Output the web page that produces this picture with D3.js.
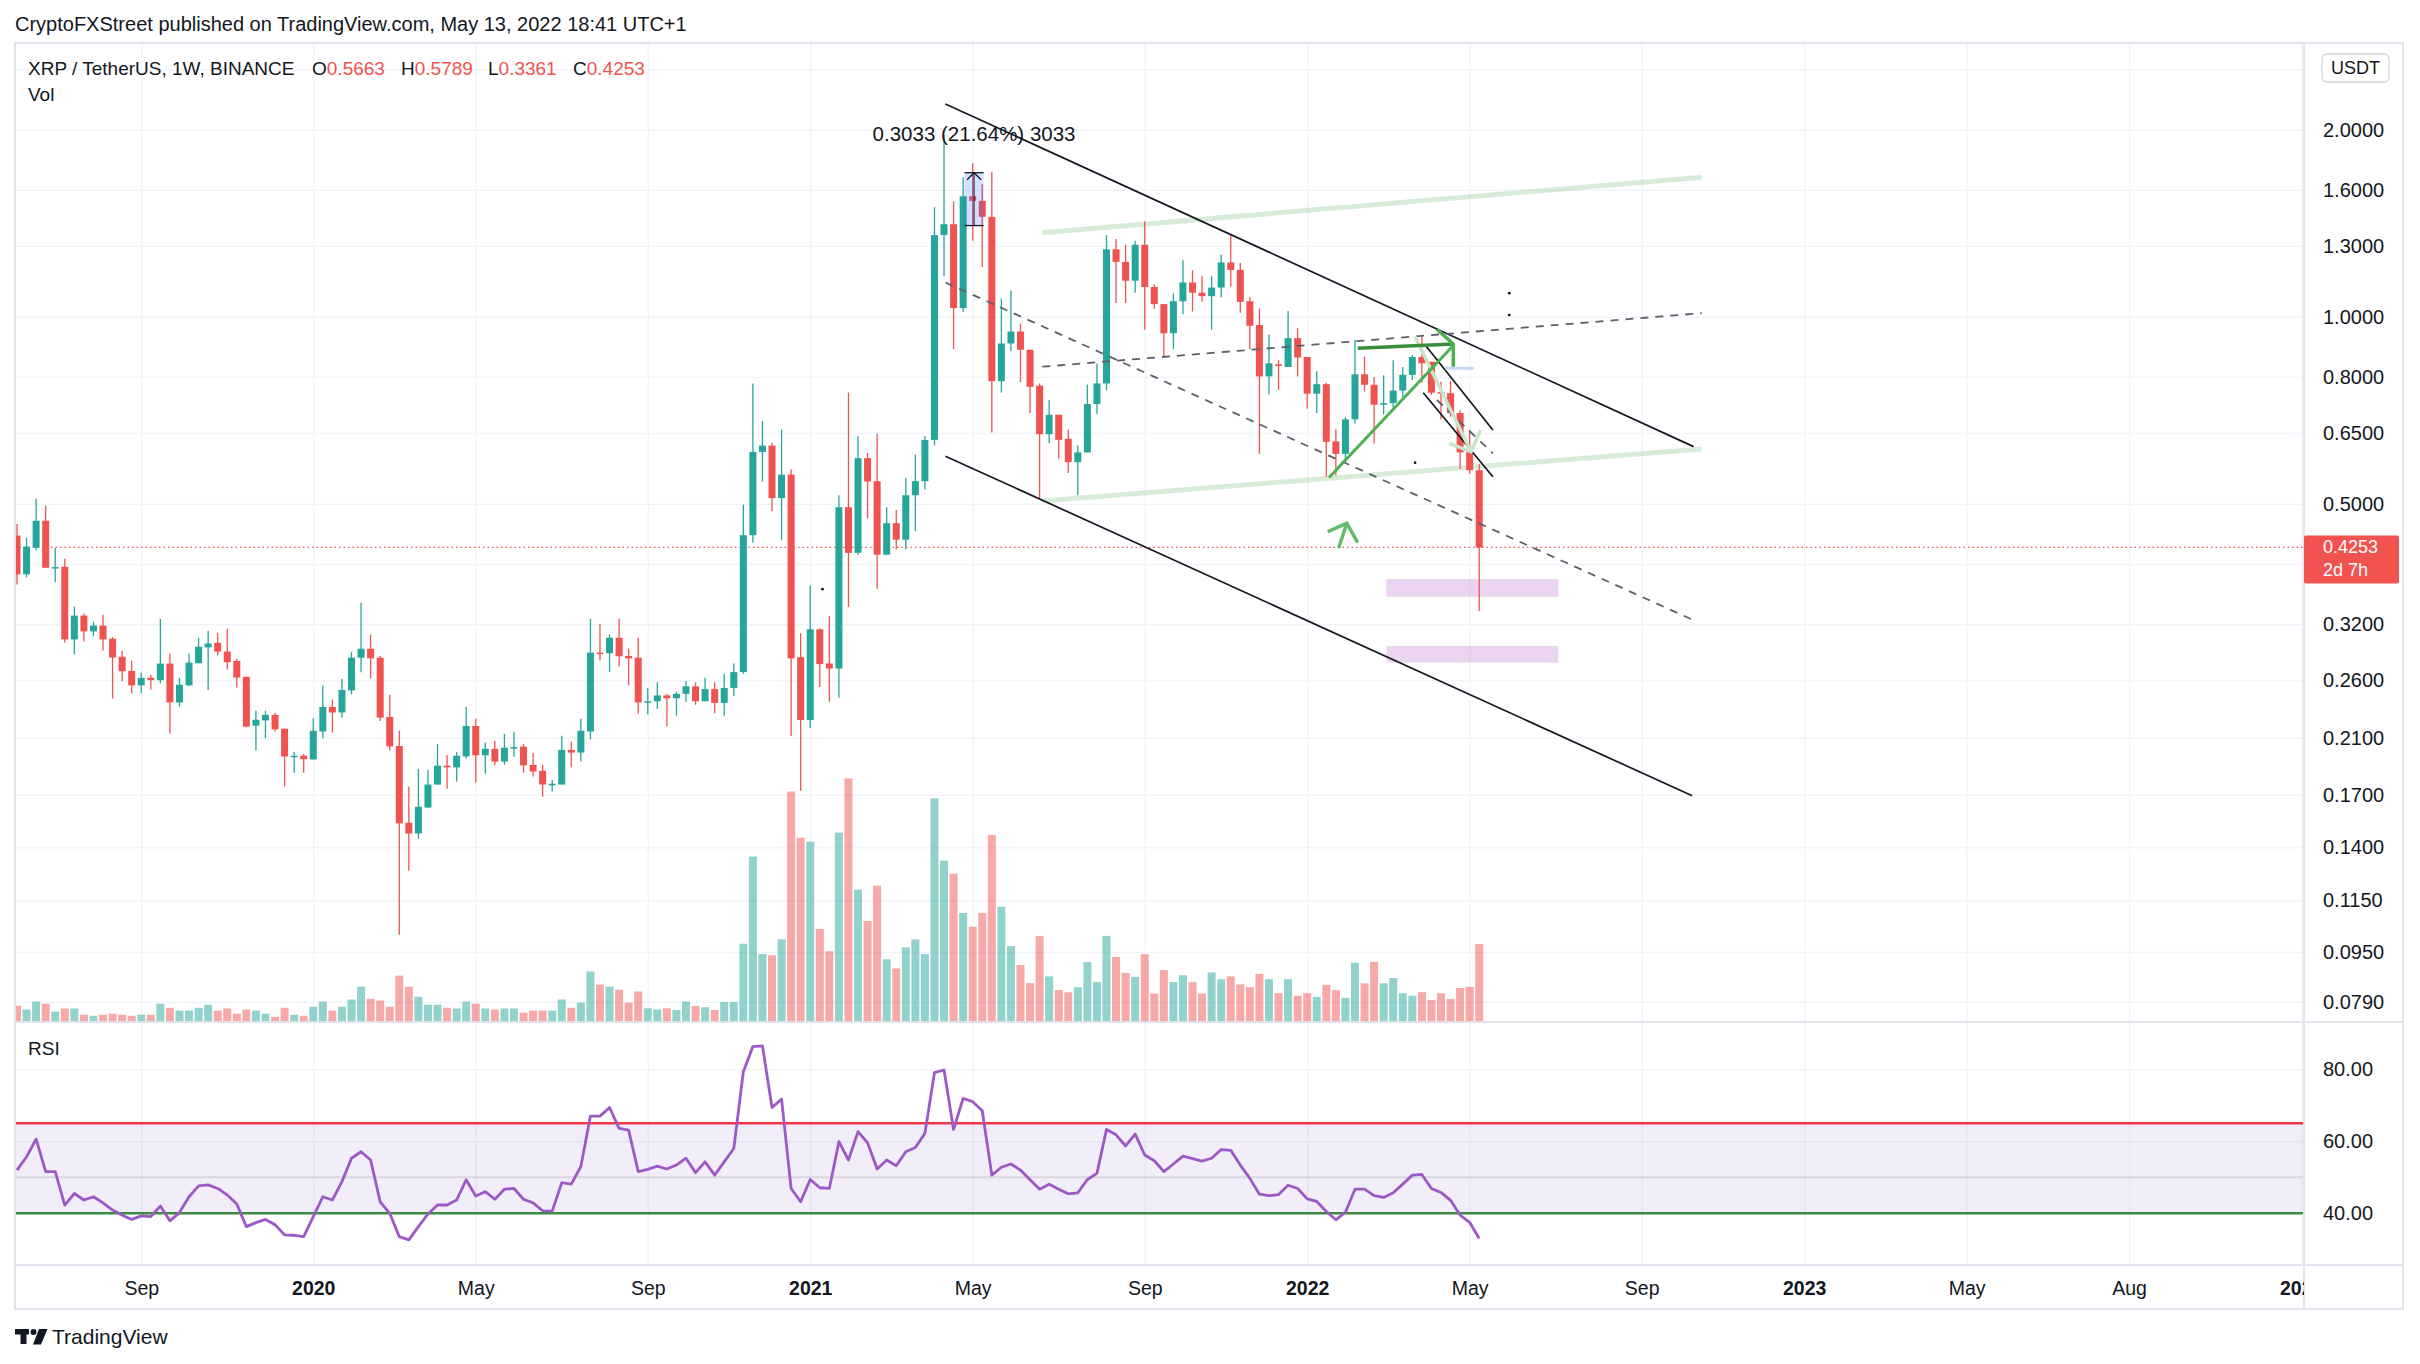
<!DOCTYPE html>
<html>
<head>
<meta charset="utf-8">
<title>XRP / TetherUS 1W</title>
<script src="https://cdn.jsdelivr.net/npm/d3@7"></script>
<style>
html, body { margin: 0; background: #fff; overflow: hidden; }
svg text { font-family: "Liberation Sans", Arial, sans-serif; fill: #131722; }
.grid line { stroke: #f0f3fa; stroke-width: 1.3; }
.grid path { display: none; }
</style>
</head>
<body>
<svg id="chart" width="2420" height="1364"></svg>
<script>
// weekly bars, first one is the week of 2019-06-03
const firstBar = "2019-06-03";

const opens = [.4444,.3850,.4249,.4696,.3945,.3960,.3025,.3304,.3116,.3184,.3033,.2837,.2692,.2552,.2624,.2601,.2766,.2395,.2552,.2769,
.2937,.2987,.2892,.2794,.2634,.2198,.2241,.2287,.2173,.1961,.1966,.1939,.2151,.2355,.2308,.2505,.2827,.2922,.2827,.2270,
.2038,.1534,.1474,.1622,.1767,.1895,.1883,.1961,.2195,.1969,.2017,.1924,.2020,.2033,.1900,.1859,.1767,.1767,.2009,.1989,
.2151,.2881,.2874,.3044,.2845,.2827,.2395,.2406,.2458,.2432,.2473,.2542,.2406,.2516,.2391,.2527,.2680,.4451,.6060,.6203,
.5107,.5569,.2832,.2244,.3141,.2767,.2716,.4937,.4169,.5921,.5437,.4141,.4653,.4377,.5161,.5437,.6336,1.3532,1.4086,1.0324,
1.5623,1.5360,1.4478,.7876,.9056,.9467,.8847,.7745,.6471,.6953,.6362,.5834,.6048,.7238,.7810,1.2835,1.2252,1.1427,1.3054,1.1164,
1.0478,.9407,1.0590,1.1354,1.0930,1.0792,1.1140,1.2226,1.1894,1.0590,.9694,.8016,.8381,.8300,.9236,.8613,.7519,.7787,.6302,.6016,
.6837,.8078,.7771,.7218,.7261,.7607,.8063,.8612,.8464,.7562,.7533,.6998,.6062,.5663];
const highs = [.4641,.4410,.5097,.4968,.4243,.4078,.3417,.3326,.3230,.3313,.3052,.2899,.2794,.2675,.2655,.3267,.2870,.2624,.2870,.3044,
.3123,.3100,.3148,.2815,.2634,.2323,.2323,.2305,.2173,.1994,.1979,.2258,.2548,.2421,.2615,.2889,.3465,.3080,.2845,.2464,
.2156,.1754,.1873,.1866,.2054,.1971,.1994,.2355,.2255,.2062,.2078,.2132,.2148,.2054,.1986,.1900,.1797,.2116,.2070,.2255,
.3267,.3204,.3080,.3267,.2922,.3044,.2527,.2580,.2474,.2494,.2593,.2580,.2624,.2580,.2663,.2767,.4984,.7810,.6793,.6270,
.6582,.5676,.3094,.3695,.3150,.3297,.5161,.7550,.6430,.6035,.6485,.4937,.4885,.5499,.5997,.6430,1.5007,1.9666,1.5330,1.6750,
1.7660,1.6330,1.7110,1.0700,1.1020,.9750,.8847,.7810,.7346,.6953,.6582,.6203,.7777,.8410,1.3532,1.3333,1.3054,1.3248,1.4236,1.1282,
1.0478,1.0907,1.2330,1.1869,1.1620,1.1620,1.2593,1.3532,1.2200,1.0747,1.0315,.9361,.8513,1.0216,.9582,.8613,.8173,.7832,.6590,.6890,
.9182,.8629,.8000,.8047,.8513,.8300,.8680,.9290,.8464,.7862,.7877,.7068,.6577,.5789];
const lows = [.3709,.3806,.4210,.3945,.3738,.2990,.2862,.3002,.3060,.2903,.2430,.2591,.2477,.2477,.2513,.2571,.2134,.2358,.2542,.2769,
.2507,.2851,.2706,.2532,.2184,.2004,.2097,.2151,.1754,.1846,.1846,.1939,.2097,.2142,.2264,.2467,.2679,.2618,.2236,.2004,
.1013,.1284,.1445,.1622,.1767,.1740,.1786,.1946,.1779,.1839,.1897,.1902,.1959,.1846,.1821,.1689,.1722,.1767,.1883,.1924,
.2089,.2799,.2679,.2738,.2552,.2296,.2292,.2337,.2193,.2280,.2401,.2374,.2406,.2302,.2280,.2450,.2663,.4331,.5430,.4865,
.4377,.2115,.1727,.2179,.2537,.2401,.2437,.3411,.4139,.4732,.3649,.4139,.4222,.4222,.4517,.5272,.6203,1.1620,.8867,1.0172,
1.3248,1.2020,.6512,.7550,.8810,.7843,.6998,.5096,.6255,.5909,.5605,.5161,.6048,.6982,.7615,1.0522,1.0522,1.0930,.9527,1.0302,
.8608,.8867,1.0087,1.0193,1.0567,.9527,1.0747,1.1187,1.0151,.8867,.6016,.7504,.7621,.8300,.8016,.7108,.6998,.5524,.5556,.5843,
.6732,.7578,.6253,.6958,.7080,.7418,.7910,.7832,.7490,.6837,.6900,.5686,.5588,.3361];
const closes = [.3850,.4266,.4696,.3945,.3955,.3025,.3304,.3116,.3184,.3025,.2829,.2689,.2552,.2624,.2601,.2766,.2395,.2558,.2776,.2944,
.2979,.2892,.2780,.2627,.2190,.2246,.2287,.2167,.1961,.1966,.1941,.2156,.2355,.2308,.2509,.2827,.2922,.2820,.2264,.2035,
.1530,.1474,.1627,.1767,.1895,.1883,.1966,.2195,.1969,.2017,.1924,.2025,.2030,.1897,.1854,.1767,.1772,.2009,.1989,.2156,
.2881,.2878,.3044,.2842,.2820,.2395,.2406,.2458,.2432,.2473,.2542,.2406,.2516,.2391,.2527,.2680,.4451,.6060,.6203,.5107,
.5569,.2820,.2244,.3141,.2761,.2716,.4937,.4169,.5921,.5430,.4141,.4653,.4377,.5161,.5437,.6336,1.3532,1.4086,1.0324,1.5623,
1.5360,1.4478,.7876,.9056,.9467,.8847,.7712,.6471,.6953,.6336,.5834,.6048,.7238,.7810,1.2835,1.2252,1.1427,1.3054,1.1164,1.0478,
.9407,1.0590,1.1354,1.0930,1.0792,1.1140,1.2226,1.1894,1.0567,.9669,.8016,.8415,.8333,.9236,.8596,.7519,.7787,.6290,.6016,.6837,
.8078,.7771,.7218,.7261,.7607,.8063,.8612,.8415,.7548,.7533,.6998,.6050,.5663,.4253];
// volume, millions of XRP
const volumes = [163,125,204,183,104,135,135,73,62,73,83,73,62,73,73,183,142,114,114,142,
173,114,135,83,125,114,83,52,142,73,62,152,204,114,152,225,353,232,215,152,
464,353,253,173,173,142,135,204,183,135,125,135,135,93,114,114,114,225,142,194,
505,374,353,322,194,305,137,125,137,120,205,160,148,120,200,200,782,1654,679,667,
827,2305,1843,1803,930,707,1894,2436,1323,1010,1363,627,536,747,827,679,2236,1614,1483,1090,
953,1090,1871,1152,759,570,388,861,456,319,297,348,599,399,861,650,491,451,679,285,
519,399,468,399,285,496,428,456,376,348,482,429,288,429,262,288,251,372,319,241,
592,387,602,387,440,288,262,298,220,288,230,340,351,780];
const rsi = [52.0,55.7,60.6,51.6,51.6,42.3,45.5,43.7,44.6,42.9,40.9,39.5,38.3,39.3,39.1,42.0,37.9,40.2,44.6,47.6,
47.9,46.9,45.1,42.6,36.3,37.4,38.3,36.8,34.0,33.9,33.5,39.1,44.6,43.7,48.8,55.3,57.1,54.8,43.2,40.0,
33.5,32.6,36.3,39.8,42.3,42.3,43.7,49.3,44.8,46.0,43.9,46.7,46.9,43.9,42.9,40.7,40.6,48.5,48.1,53.0,
67.0,67.0,69.4,63.6,63.1,51.6,52.2,53.1,52.3,53.4,55.3,51.3,54.3,50.6,54.3,58.0,79.3,86.3,86.5,69.4,
71.7,46.9,43.2,49.4,47.1,46.9,59.9,54.8,62.7,59.6,52.3,54.8,53.2,57.1,58.3,62.2,79.1,79.8,63.3,71.9,
71.0,68.5,50.6,52.8,53.7,52.0,49.3,46.7,48.1,46.7,45.4,45.7,49.4,51.1,63.3,61.8,58.7,62.0,56.2,54.6,
51.6,53.7,55.9,55.2,54.5,55.3,57.7,57.5,53.4,49.7,45.3,44.9,45.2,47.8,46.9,44.0,43.3,40.5,38.2,40.3,
46.7,46.7,44.9,44.4,45.7,48.1,50.6,50.8,46.9,45.8,43.6,39.5,37.5,33.0];

const priceGrid = [2.5, 2.0, 1.6, 1.3, 1.0, 0.8, 0.65, 0.5, 0.4, 0.32, 0.26, 0.21, 0.17, 0.14, 0.115, 0.095, 0.079];
// 2.5 and 0.4 sit under the currency button and the last-price tag
const priceLabels = [2.0, 1.6, 1.3, 1.0, 0.8, 0.65, 0.5, 0.32, 0.26, 0.21, 0.17, 0.14, 0.115, 0.095, 0.079];
const rsiTicks = [80, 60, 40];
const rsiBands = [40, 50, 65];
const timeTicks = [["2019-09-02","Sep"],["2020-01-06","2020"],["2020-05-04","May"],["2020-09-07","Sep"],["2021-01-04","2021"],
  ["2021-05-03","May"],["2021-09-06","Sep"],["2022-01-03","2022"],["2022-05-02","May"],["2022-09-05","Sep"],
  ["2023-01-02","2023"],["2023-05-01","May"],["2023-08-28","Aug"],["2024-01-01","2024"]];
const lastPrice = 0.4253;

// drawings, [date, price]
const channelLines = [[["2021-04-13",2.20],["2022-10-13",0.618]], [["2021-04-13",0.5965],["2022-10-12",0.1695]],
  [["2022-03-31",0.8971],["2022-05-19",0.6572]], [["2022-03-29",0.7546],["2022-05-19",0.5528]]];
const dashedLines = [[["2021-04-13",1.135],["2022-10-11",0.3263]], [["2021-06-23",0.8309],["2022-10-19",1.0133]],
  [["2022-04-08",0.7345],["2022-05-19",0.6029]]];
const bandLines = [[["2021-06-23",1.365],["2022-10-19",1.677]], [["2021-06-23",0.5053],["2022-10-19",0.6127]]];
const riseLine = [["2022-01-19",0.5511],["2022-04-20",0.8988]];
const pushArrow = [["2022-02-09",0.8898],["2022-04-20",0.9038]];
const pushHead = [["2022-04-08",0.9544],["2022-04-20",0.9038],["2022-04-20",0.8309]];
const chevron = [["2022-01-18",0.4509],["2022-02-01",0.4651],["2022-02-09",0.4329]];
const chevronStem = [["2022-02-01",0.4651],["2022-01-26",0.4240]];
const fadedArrow = [["2022-03-23",0.9286],["2022-05-03",0.6064]];
const fadedHead = [["2022-04-17",0.6256],["2022-05-03",0.6064],["2022-05-10",0.6572]];
const blueMark = [["2022-04-14",0.826],["2022-05-05",0.826]];
const zones = [["2022-03-02","2022-07-06",0.3543,0.3784], ["2022-03-02","2022-07-06",0.2775,0.2952]];
const measure = {from: "2021-04-27", to: "2021-05-11", low: 1.4017, high: 1.7050, label: "0.3033 (21.64%) 3033"};
const dots = [["2022-05-31",1.006],["2022-05-31",1.091],["2022-03-23",0.5822],["2021-01-13",0.3644]];

const UP = "#26a69a", DOWN = "#ef5350";
const parse = d3.utcParse("%Y-%m-%d");
const start = parse(firstBar);
const bars = closes.map((c, i) => ({
  date: d3.utcDay.offset(start, 7 * i), o: opens[i], h: highs[i], l: lows[i], c: c, v: volumes[i], rsi: rsi[i]
}));

const svg = d3.select("#chart");
const L = 15, R = 2304, T = 43, PB = 1022, RB = 1265, AXR = 2403, BOT = 1309;

const x = d3.scaleUtc().domain([parse("2019-06-03"), parse("2022-01-03")]).range([17, 1307.2]);
const y = d3.scaleLog().domain([0.0733, 2.757]).range([PB, T]);
const yVol = d3.scaleLinear().domain([0, 2500]).range([PB, PB - 250]);
const yRsi = d3.scaleLinear().domain([40, 80]).range([1213.3, 1069.3]);
const pt = d => [x(parse(d[0])), y(d[1])];

// header
svg.append("text").attr("x", 15).attr("y", 31).attr("font-size", 20)
  .text("CryptoFXStreet published on TradingView.com, May 13, 2022 18:41 UTC+1");

const defs = svg.append("defs");
defs.append("clipPath").attr("id", "pclip").append("rect").attr("x", L).attr("y", T).attr("width", R - L).attr("height", PB - T);
defs.append("clipPath").attr("id", "rclip").append("rect").attr("x", L).attr("y", PB).attr("width", R - L).attr("height", RB - PB);
defs.append("clipPath").attr("id", "tclip").append("rect").attr("x", L).attr("y", RB).attr("width", R - L).attr("height", BOT - RB);

// grids
const tickDates = timeTicks.map(t => parse(t[0]));
svg.append("g").attr("class", "grid").attr("transform", `translate(0,${T})`)
  .call(d3.axisBottom(x).tickValues(tickDates).tickSize(RB - T).tickFormat(""));
svg.append("g").attr("class", "grid").attr("transform", `translate(${R},0)`)
  .call(d3.axisLeft(y).tickValues(priceGrid).tickSize(R - L).tickFormat(""));
svg.append("g").attr("class", "grid").attr("transform", `translate(${R},0)`)
  .call(d3.axisLeft(yRsi).tickValues([80, 60]).tickSize(R - L).tickFormat(""));

// price pane
const pg = svg.append("g").attr("clip-path", "url(#pclip)");

pg.append("g").selectAll("rect").data(bars).join("rect")
  .attr("x", d => x(d.date) - 4).attr("width", 8)
  .attr("y", d => yVol(d.v)).attr("height", d => PB - yVol(d.v))
  .attr("fill", d => d.c >= d.o ? "rgba(38,166,154,0.5)" : "rgba(239,83,80,0.5)");

pg.append("line").attr("x1", L).attr("x2", R).attr("y1", y(lastPrice)).attr("y2", y(lastPrice))
  .attr("stroke", DOWN).attr("stroke-width", 1.3).attr("stroke-dasharray", "1.5,3");

// drawings behind candles
zones.forEach(z => {
  pg.append("rect").attr("x", x(parse(z[0]))).attr("width", x(parse(z[1])) - x(parse(z[0])))
    .attr("y", y(z[3])).attr("height", y(z[2]) - y(z[3])).attr("fill", "rgba(156,39,176,0.2)");
});
const line = d3.line();
bandLines.forEach(s => pg.append("path").attr("d", line(s.map(pt))).attr("stroke", "rgba(76,175,80,0.22)")
  .attr("stroke-width", 5).attr("fill", "none"));

const cg = pg.append("g");
const candle = cg.selectAll("g").data(bars).join("g");
candle.append("line")
  .attr("x1", d => x(d.date)).attr("x2", d => x(d.date))
  .attr("y1", d => y(d.h)).attr("y2", d => y(d.l))
  .attr("stroke", d => d.c >= d.o ? UP : DOWN).attr("stroke-width", 1.3);
candle.append("rect")
  .attr("x", d => x(d.date) - 3.5).attr("width", 7)
  .attr("y", d => y(Math.max(d.o, d.c)))
  .attr("height", d => Math.max(1.5, Math.abs(y(d.o) - y(d.c))))
  .attr("fill", d => d.c >= d.o ? UP : DOWN);

// measure tool
const mx0 = x(parse(measure.from)), mx1 = x(parse(measure.to)), mc = (mx0 + mx1) / 2;
pg.append("rect").attr("x", mx0).attr("width", mx1 - mx0).attr("y", y(measure.high))
  .attr("height", y(measure.low) - y(measure.high)).attr("fill", "rgba(41,98,255,0.2)");
[measure.high, measure.low].forEach(p => pg.append("line").attr("x1", mx0).attr("x2", mx1)
  .attr("y1", y(p)).attr("y2", y(p)).attr("stroke", "#131722").attr("stroke-width", 1.3));
pg.append("line").attr("x1", mc).attr("x2", mc).attr("y1", y(measure.high)).attr("y2", y(measure.low))
  .attr("stroke", "#131722").attr("stroke-width", 1);
pg.append("path").attr("d", `M${mc - 7},${y(measure.high) + 7}L${mc},${y(measure.high)}L${mc + 7},${y(measure.high) + 7}`)
  .attr("stroke", "#131722").attr("fill", "none").attr("stroke-width", 1.2);
svg.append("text").attr("x", mc).attr("y", y(measure.high) - 32).attr("text-anchor", "middle")
  .attr("font-size", 20.5).text(measure.label);

channelLines.forEach(s => pg.append("path").attr("d", line(s.map(pt))).attr("stroke", "#131722")
  .attr("stroke-width", 1.7).attr("fill", "none"));
dashedLines.forEach(s => pg.append("path").attr("d", line(s.map(pt))).attr("stroke", "#5d606b")
  .attr("stroke-width", 1.8).attr("stroke-dasharray", "8,7").attr("fill", "none"));

pg.append("path").attr("d", line(fadedArrow.map(pt))).attr("stroke", "#c8e6c9").attr("stroke-width", 3.5).attr("fill", "none");
pg.append("path").attr("d", line(fadedHead.map(pt))).attr("stroke", "#c8e6c9").attr("stroke-width", 3.5).attr("fill", "none");
pg.append("path").attr("d", line(blueMark.map(pt))).attr("stroke", "#c9d6f7").attr("stroke-width", 3).attr("fill", "none");
pg.append("path").attr("d", line(riseLine.map(pt))).attr("stroke", "#4caf50").attr("stroke-width", 3).attr("fill", "none");
pg.append("path").attr("d", line(pushArrow.map(pt))).attr("stroke", "#388e3c").attr("stroke-width", 3.5).attr("fill", "none");
pg.append("path").attr("d", line(pushHead.map(pt))).attr("stroke", "#4caf50").attr("stroke-width", 3.5)
  .attr("fill", "none").attr("stroke-linejoin", "round");
pg.append("path").attr("d", line(chevron.map(pt))).attr("stroke", "#66bb6a").attr("stroke-width", 3.5).attr("fill", "none");
pg.append("path").attr("d", line(chevronStem.map(pt))).attr("stroke", "#66bb6a").attr("stroke-width", 3.5).attr("fill", "none");
dots.forEach(d => pg.append("circle").attr("cx", pt(d)[0]).attr("cy", pt(d)[1]).attr("r", 1.4).attr("fill", "#131722"));

// RSI pane
const rg = svg.append("g").attr("clip-path", "url(#rclip)");
rg.append("rect").attr("x", L).attr("width", R - L).attr("y", yRsi(rsiBands[2]))
  .attr("height", yRsi(rsiBands[0]) - yRsi(rsiBands[2])).attr("fill", "rgba(126,87,194,0.1)");
rg.append("line").attr("x1", L).attr("x2", R).attr("y1", yRsi(rsiBands[1])).attr("y2", yRsi(rsiBands[1]))
  .attr("stroke", "rgba(120,123,134,0.2)").attr("stroke-width", 2);
rg.append("line").attr("x1", L).attr("x2", R).attr("y1", yRsi(rsiBands[2])).attr("y2", yRsi(rsiBands[2]))
  .attr("stroke", "#f23645").attr("stroke-width", 2.6);
rg.append("line").attr("x1", L).attr("x2", R).attr("y1", yRsi(rsiBands[0])).attr("y2", yRsi(rsiBands[0]))
  .attr("stroke", "#388e3c").attr("stroke-width", 2.6);
rg.append("path").datum(bars)
  .attr("d", d3.line().x(d => x(d.date)).y(d => yRsi(d.rsi)))
  .attr("stroke", "#9c59c6").attr("stroke-width", 2.8).attr("fill", "none").attr("stroke-linejoin", "round");

// legends
const lg = svg.append("text").attr("x", 28).attr("y", 75).attr("font-size", 19);
lg.append("tspan").text("XRP / TetherUS, 1W, BINANCE");
[["O", opens], ["H", highs], ["L", lows], ["C", closes]].forEach((k, j) => {
  lg.append("tspan").attr("x", [312, 401, 488, 573][j]).text(k[0]);
  lg.append("tspan").attr("fill", DOWN).style("fill", DOWN).text(k[1][k[1].length - 1].toFixed(4));
});
svg.append("text").attr("x", 28).attr("y", 101).attr("font-size", 19).text("Vol");
svg.append("text").attr("x", 28).attr("y", 1055).attr("font-size", 19).text("RSI");

// frame and separators
svg.append("rect").attr("x", L).attr("y", T).attr("width", AXR - L).attr("height", BOT - T)
  .attr("fill", "none").attr("stroke", "#e0e3eb").attr("stroke-width", 2);
svg.append("line").attr("x1", R).attr("x2", R).attr("y1", T).attr("y2", BOT).attr("stroke", "#e0e3eb").attr("stroke-width", 2);
[PB, RB].forEach(v => svg.append("line").attr("x1", L).attr("x2", AXR).attr("y1", v).attr("y2", v)
  .attr("stroke", "#e0e3eb").attr("stroke-width", 2));

// price axis
const pa = svg.append("g").attr("transform", `translate(${R},0)`)
  .call(d3.axisRight(y).tickValues(priceLabels).tickFormat(d3.format(".4f")).tickSize(0).tickPadding(19));
pa.select(".domain").remove();
pa.selectAll("text").attr("font-size", 20).attr("font-family", "Liberation Sans, Arial, sans-serif").attr("fill", "#131722");

const ra = svg.append("g").attr("transform", `translate(${R},0)`)
  .call(d3.axisRight(yRsi).tickValues(rsiTicks).tickFormat(d3.format(".2f")).tickSize(0).tickPadding(19));
ra.select(".domain").remove();
ra.selectAll("text").attr("font-size", 20).attr("font-family", "Liberation Sans, Arial, sans-serif").attr("fill", "#131722");

// last price tag
const ly = y(lastPrice);
svg.append("rect").attr("x", R).attr("y", ly - 12).attr("width", 95).attr("height", 48).attr("rx", 2).attr("fill", "#f05350");
svg.append("text").attr("x", 2323).attr("y", ly + 6).attr("font-size", 18).style("fill", "#fff").text(lastPrice.toFixed(4));
svg.append("text").attr("x", 2323).attr("y", ly + 29).attr("font-size", 18).style("fill", "#fff").text("2d 7h");

// currency button
svg.append("rect").attr("x", 2322).attr("y", 54).attr("width", 67).attr("height", 28).attr("rx", 5)
  .attr("fill", "#fff").attr("stroke", "#d1d4dc").attr("stroke-width", 1.3);
svg.append("text").attr("x", 2355.5).attr("y", 74).attr("text-anchor", "middle").attr("font-size", 18).text("USDT");

// time axis
const labelOf = new Map(timeTicks.map(t => [+parse(t[0]), t[1]]));
const ta = svg.append("g").attr("clip-path", "url(#tclip)").append("g").attr("transform", `translate(0,${RB})`)
  .call(d3.axisBottom(x).tickValues(tickDates).tickSize(0).tickPadding(16).tickFormat(d => labelOf.get(+d)));
ta.select(".domain").remove();
ta.selectAll("text").attr("font-size", 19.5).attr("font-family", "Liberation Sans, Arial, sans-serif").attr("fill", "#131722")
  .attr("font-weight", d => /^\d+$/.test(labelOf.get(+d)) ? "bold" : "normal");

// footer logo
const logo = svg.append("g").attr("fill", "#131722");
logo.append("rect").attr("x", 15).attr("y", 1329).attr("width", 14).attr("height", 5.5);
logo.append("rect").attr("x", 20.5).attr("y", 1329).attr("width", 6).attr("height", 15);
logo.append("circle").attr("cx", 33.5).attr("cy", 1332).attr("r", 3);
logo.append("path").attr("d", "M39,1329L47.5,1329L41,1344.5L33,1344.5Z");
svg.append("text").attr("x", 52).attr("y", 1344).attr("font-size", 21).text("TradingView");
</script>
</body>
</html>
